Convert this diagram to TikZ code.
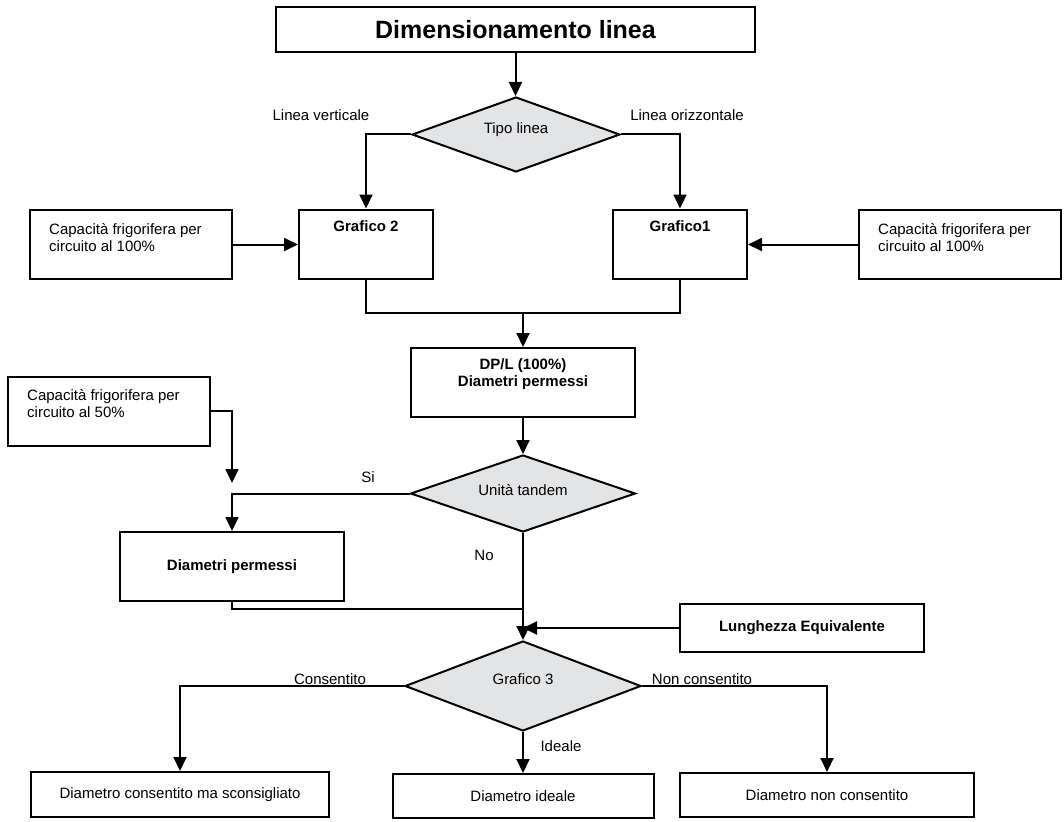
\documentclass[tikz,border=0pt]{standalone}
\usepackage{fontspec}
\setmainfont{Liberation Sans}
\usetikzlibrary{shapes.geometric,arrows.meta,calc}
\definecolor{decfill}{RGB}{227,228,230}
\begin{document}
\begin{tikzpicture}[x=1pt,y=-1pt,
  every node/.style={font=\fontsize{15}{17}\selectfont},
  boldtext/.style={font=\fontsize{15}{17}\selectfont\bfseries},
  box/.style={draw, line width=2pt, rectangle, inner sep=0pt},
  decision/.style={draw, line width=2pt, diamond, fill=decfill, inner sep=0pt},
  link/.style={line width=2pt},
  arr/.style={link, -{Triangle[length=14pt,width=13pt]}},
  lbl/.style={inner sep=0pt},
  captext/.style={anchor=north west, align=left, inner sep=0pt, xshift=20pt, yshift=-14pt},
]
\useasboundingbox (0,0) rectangle (1064,821);

% title and first decision
\node[box, minimum width=479pt, minimum height=45pt,
      font=\fontsize{25}{29}\selectfont\bfseries] (title) at (515.5,29.5) {\raisebox{-3pt}{Dimensionamento linea}};
\node[decision, minimum width=208pt, minimum height=75pt,
      label={[yshift=4.5pt]center:Tipo linea}] (tipo) at (516,134.5) {};
\node[lbl] (lv) at (321,115) {Linea verticale};
\node[lbl] (lo) at (687,115) {Linea orizzontale};

% charts 1 and 2 with their inputs
\node[box, minimum width=134pt, minimum height=69pt,
      label={[anchor=center, yshift=-17.5pt, boldtext]north:Grafico 2}] (g2) at (366,244) {};
\node[box, minimum width=134pt, minimum height=69pt,
      label={[anchor=center, yshift=-17.5pt, boldtext]north:Grafico1}] (g1) at (680,244) {};
\node[box, minimum width=202pt, minimum height=69pt,
      label={[captext]north west:Capacità frigorifera per\\circuito al 100\%}] (capL) at (131,244.5) {};
\node[box, minimum width=202pt, minimum height=69pt,
      label={[captext]north west:Capacità frigorifera per\\circuito al 100\%}] (capR) at (960,244.5) {};

% DP/L block
\node[box, minimum width=224pt, minimum height=69pt,
      label={[align=center, yshift=8pt, boldtext]center:DP/L (100\%)\\Diametri permessi}] (dpl) at (523,382.5) {};

% tandem decision
\node[box, minimum width=202pt, minimum height=69pt,
      label={[captext]north west:Capacità frigorifera per\\circuito al 50\%}] (cap50) at (109,411) {};
\node[decision, minimum width=225pt, minimum height=77pt,
      label={[yshift=3.5pt]center:Unità tandem}] (tandem) at (523,493.5) {};
\node[lbl] (si) at (368,477) {Si};
\node[lbl] (no) at (484,555) {No};
\node[box, minimum width=224pt, minimum height=69pt, boldtext] (dperm) at (232,566.5) {Diametri permessi};
\node[box, minimum width=244pt, minimum height=48pt, boldtext] (lung) at (802,628) {Lunghezza Equivalente};

% chart 3 and outcomes
\node[decision, minimum width=236pt, minimum height=90pt,
      label={[yshift=7pt]center:Grafico 3}] (g3) at (523,686) {};
\node[lbl] (cons) at (330,679) {Consentito};
\node[lbl] (ncons) at (702,679) {Non consentito};
\node[lbl] (ideal) at (561,746) {Ideale};
\node[box, minimum width=298pt, minimum height=45pt] (b1) at (180,794.5) {Diametro consentito ma sconsigliato};
\node[box, minimum width=261pt, minimum height=44pt] (b2) at (523,796) {Diametro ideale};
\node[box, minimum width=294pt, minimum height=44pt] (b3) at (827,795) {Diametro non consentito};

% connectors
\coordinate (join1) at (523,313);
\coordinate (capend) at (232,483);
\coordinate (join2) at (523,608.5);
\coordinate (join3) at (523,628);

\draw[arr] (title.south) -- (title.south |- tipo.north);
\draw[arr] (tipo.west) -| (g2.north);
\draw[arr] (tipo.east) -| (g1.north);
\draw[arr] (capL.east) -- (capL.east -| g2.west);
\draw[arr] (capR.west) -- (capR.west -| g1.east);
\draw[link] (g2.south) |- (join1);
\draw[link] (g1.south) |- (join1);
\draw[arr] (join1) -- (dpl.north);
\draw[arr] (dpl.south) -- (tandem.north);
\draw[arr] (cap50.east) -| (capend);
\draw[arr] (tandem.west) -| (dperm.north);
\draw[arr] (tandem.south) -- (g3.north);
\draw[link] (dperm.south) |- (join2);
\draw[arr] (lung.west) -- (join3);
\draw[arr] (g3.west) -| (b1.north);
\draw[arr] (g3.south) -- (b2.north);
\draw[arr] (g3.east) -| (b3.north);
\end{tikzpicture}
\end{document}
